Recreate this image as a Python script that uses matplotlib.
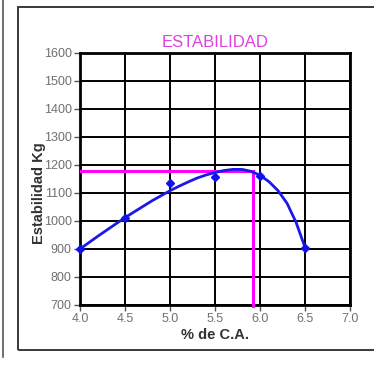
import matplotlib

matplotlib.use("Agg")

import matplotlib.pyplot as plt
from matplotlib.lines import Line2D
from matplotlib.patches import Rectangle

# measured points
pct_ca = [4.0, 4.5, 5.0, 5.5, 6.0, 6.5]
estabilidad = [900, 1010, 1135, 1158, 1160, 905]

# trend curve
curve_x = [4.0, 4.1, 4.2, 4.3, 4.4, 4.5, 4.6, 4.7, 4.8, 4.9, 5.0, 5.1, 5.2,
           5.3, 5.4, 5.5, 5.6, 5.7, 5.8, 5.9, 6.0, 6.1, 6.2, 6.3, 6.4, 6.5]
curve_y = [900, 923, 946, 968, 990, 1012, 1032, 1052, 1072, 1090, 1108, 1124, 1139,
           1153, 1164, 1173, 1180, 1184, 1184, 1177, 1163, 1140, 1108, 1063, 995, 905]

# design value (optimum asphalt content)
opt_pct = 5.92
opt_estab = 1180

x_ticks = [4.0, 4.5, 5.0, 5.5, 6.0, 6.5, 7.0]
y_ticks = [700, 800, 900, 1000, 1100, 1200, 1300, 1400, 1500, 1600]

plt.rcParams["font.family"] = ["Liberation Sans", "DejaVu Sans"]

fig = plt.figure(figsize=(3.74, 3.67), dpi=100)
ax = fig.add_axes([0.214, 0.169, 0.722, 0.687])

# outer frames (chart border + edge of the neighbouring chart)
fig.add_artist(Rectangle((0.048, 0.046), 1.0, 0.935, transform=fig.transFigure,
                         fill=False, ec="#3a3a3a", lw=1.4))
fig.add_artist(Line2D([0.008, 0.008], [0.027, 1.0], transform=fig.transFigure,
                      color="#555555", lw=1.2))

ax.set_xlim(4.0, 7.0)
ax.set_ylim(700, 1600)
ax.set_xticks(x_ticks)
ax.set_yticks(y_ticks)
ax.set_xticklabels([f"{v:.1f}" for v in x_ticks])
ax.grid(True, color="black", lw=1.4, zorder=1)
ax.set_axisbelow(True)
for sp in ax.spines.values():
    sp.set_linewidth(2.0)
    sp.set_color("black")
ax.tick_params(length=4, width=1, color="#555555", labelsize=9,
               labelcolor="#707070", pad=2)

# design lines
ax.plot([4.0, opt_pct], [opt_estab, opt_estab], color="#ff00ff", lw=2.2, zorder=3)
ax.plot([opt_pct, opt_pct], [695, opt_estab], color="#ff00ff", lw=2.2, zorder=3,
        clip_on=False)

ax.plot(curve_x, curve_y, color="#1a1ae6", lw=2.0, zorder=4, clip_on=False)
ax.plot(pct_ca, estabilidad, linestyle="none", marker="D", ms=4.5, color="#1010f0",
        zorder=5, clip_on=False)

ax.set_title("ESTABILIDAD", color="#e040e0", fontsize=12, pad=4)
ax.set_xlabel("% de C.A.", fontsize=10.5, fontweight="bold", color="#333333",
              labelpad=2)
fig.text(0.104, 0.474, "Estabilidad Kg", rotation=90, ha="center", va="center",
         fontsize=10.5, fontweight="bold", color="#333333")

fig.savefig("out.png", dpi=100)
